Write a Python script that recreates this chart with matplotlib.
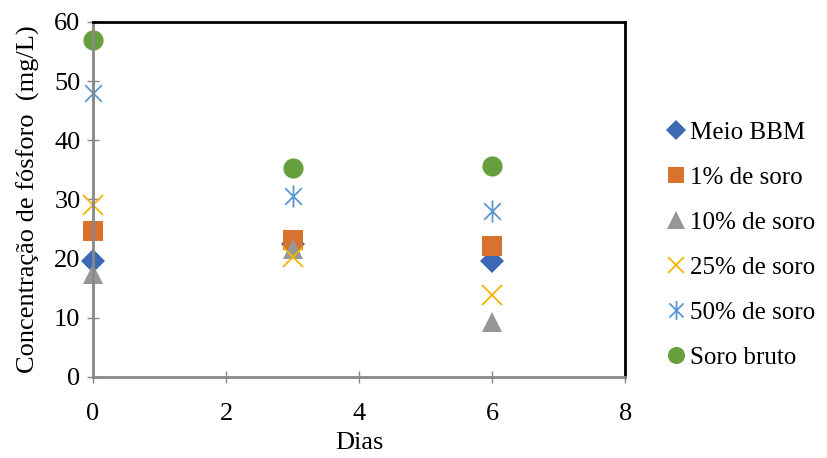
import numpy as np
import matplotlib.pyplot as plt
from matplotlib.path import Path

plt.rcParams['font.family'] = ['Liberation Serif', 'DejaVu Serif']

# Data
dias = [0, 3, 6]
meio_bbm = [19.6, 22.5, 19.6]
soro_1 = [24.7, 23.2, 22.1]
soro_10 = [17.4, 21.6, 9.3]
soro_25 = [29.1, 20.2, 13.9]
soro_50 = [48.0, 30.6, 28.1]
soro_bruto = [57.0, 35.3, 35.7]

# Excel-like star: vertical bar plus an X
star = Path([(0, -1), (0, 1), (-0.75, -0.75), (0.75, 0.75), (-0.75, 0.75), (0.75, -0.75)],
            [Path.MOVETO, Path.LINETO, Path.MOVETO, Path.LINETO, Path.MOVETO, Path.LINETO])

series = [
    ("Meio BBM", meio_bbm, 'D', '#3D68B3', 12.5),
    ("1% de soro", soro_1, 's', '#D9712F', 14),
    ("10% de soro", soro_10, '^', '#979797', 15),
    ("25% de soro", soro_25, 'x', '#F2B400', 14),
    ("50% de soro", soro_50, star, '#5D97CF', 16),
    ("Soro bruto", soro_bruto, 'o', '#66A03E', 14.5),
]

fig = plt.figure(figsize=(8.27, 4.58), dpi=100)
ax = fig.add_axes([0.1125, 0.177, 0.6435, 0.775])

for name, vals, mk, col, ms in series:
    line_marker = mk == 'x' or isinstance(mk, Path)
    ax.plot(dias, vals, linestyle='none', marker=mk, color=col,
            markersize=ms, markeredgewidth=1.3 if line_marker else 0,
            markerfacecolor='none' if line_marker else col,
            label=name, clip_on=False)

ax.set_xlim(0, 8)
ax.set_ylim(0, 60)
ax.set_xticks([0, 2, 4, 6, 8])
ax.set_yticks(range(0, 61, 10))
ax.tick_params(direction='inout', length=8, width=1, color='#888888',
               labelsize=19)
ax.tick_params(axis='x', pad=15)
ax.tick_params(axis='y', pad=5)
for s in ['left', 'bottom']:
    ax.spines[s].set_color('#888888')
    ax.spines[s].set_linewidth(2)
for s in ['top', 'right']:
    ax.spines[s].set_color('black')
    ax.spines[s].set_linewidth(2)

ax.set_xlabel("Dias", fontsize=19, labelpad=5)
ax.set_ylabel("Concentração de fósforo  (mg/L)", fontsize=19, labelpad=10)

leg = ax.legend(loc='center left', bbox_to_anchor=(1.04, 0.371), frameon=False,
                fontsize=18, handlelength=0.6, handletextpad=0.25,
                labelspacing=0.9, markerscale=0.85)

plt.savefig('out.png', dpi=100)
